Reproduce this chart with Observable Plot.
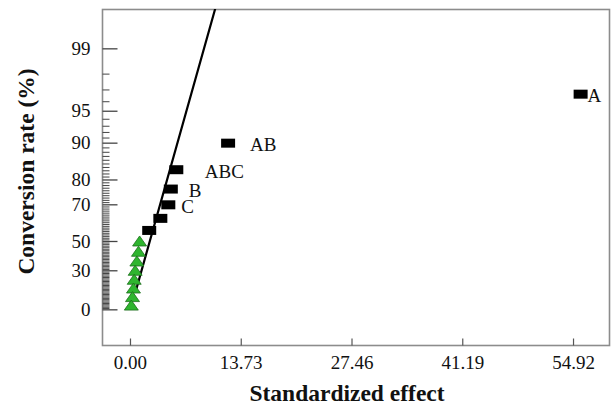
<!DOCTYPE html>
<html>
<head>
<meta charset="utf-8">
<script src="https://cdn.jsdelivr.net/npm/d3@7"></script>
<script src="https://cdn.jsdelivr.net/npm/@observablehq/plot@0.6"></script>
<style>
  html, body { margin: 0; padding: 0; background: #fff; }
  #chart svg { display: block; }
</style>
</head>
<body>
<div id="chart"></div>
<script>
// ---- Data (half-normal plot of effects) ----
const sigNames   = ["A", "AB", "ABC", "B", "C", "", ""];
const sigEffect  = [55.8, 12.1, 5.68, 5.0, 4.69, 3.70, 2.32];
const sigPercent = [96.67, 90, 83.33, 76.67, 70, 63.33, 56.67];

const insigEffect  = [1.13, 0.99, 0.79, 0.58, 0.46, 0.37, 0.25, 0.10];
const insigPercent = [50, 43.33, 36.67, 30, 23.33, 16.67, 10, 3.33];

const fitEffect  = [0.74, 10.92];
const fitPercent = [16.6, 99.8];

const xTicks      = [0, 13.73, 27.46, 41.19, 54.92];
const yTickLabels = [0, 30, 50, 70, 80, 90, 95, 99];
const yMinorTicks = d3.range(1, 99).filter(v => !yTickLabels.includes(v));

const xTitle = "Standardized effect";
const yTitle = "Conversion rate (%)";

// label offsets (style, px)
const labelDx = {A: 7, AB: 22, ABC: 28.5, B: 18, C: 13};

// ---- half-normal probability transform ----
function invNorm(p) {
  const a=[-3.969683028665376e+01,2.209460984245205e+02,-2.759285104469687e+02,1.383577518672690e+02,-3.066479806614716e+01,2.506628277459239e+00];
  const b=[-5.447609879822406e+01,1.615858368580409e+02,-1.556989798598866e+02,6.680131188771972e+01,-1.328068155288572e+01];
  const c=[-7.784894002430293e-03,-3.223964580411365e-01,-2.400758277161838e+00,-2.549671010114194e+00,4.374664141464968e+00,2.938163982698783e+00];
  const d=[7.784695709041462e-03,3.224671290700398e-01,2.445134137142996e+00,3.754408661907416e+00];
  const pl = 0.02425, ph = 1 - pl;
  let q, r;
  if (p < pl) { q = Math.sqrt(-2*Math.log(p)); return (((((c[0]*q+c[1])*q+c[2])*q+c[3])*q+c[4])*q+c[5])/((((d[0]*q+d[1])*q+d[2])*q+d[3])*q+1); }
  if (p <= ph) { q = p - 0.5; r = q*q; return (((((a[0]*r+a[1])*r+a[2])*r+a[3])*r+a[4])*r+a[5])*q/(((((b[0]*r+b[1])*r+b[2])*r+b[3])*r+b[4])*r+1); }
  q = Math.sqrt(-2*Math.log(1-p));
  return -(((((c[0]*q+c[1])*q+c[2])*q+c[3])*q+c[4])*q+c[5])/((((d[0]*q+d[1])*q+d[2])*q+d[3])*q+1);
}
const hn = pct => invNorm(0.5 + pct / 200);

// ---- tables ----
const sig = sigNames.map((n, i) => ({name: n, effect: sigEffect[i], z: hn(sigPercent[i])}));
const insig = insigEffect.map((e, i) => ({effect: e, z: hn(insigPercent[i])}));
const fit = fitEffect.map((e, i) => ({effect: e, z: hn(fitPercent[i])}));
const yMajorZ = yTickLabels.map(hn);
const yLabelMap = new Map(yMajorZ.map((z, i) => [z, String(yTickLabels[i])]));

// ---- custom symbols ----
const rectSym = {draw(ctx) { ctx.rect(-7, -4.5, 14, 9); }};
const triSym  = {draw(ctx) { ctx.moveTo(0, -5.5); ctx.lineTo(7, 4.5); ctx.lineTo(-7, 4.5); ctx.closePath(); }};
const vTick = len => ({draw(ctx) { ctx.moveTo(0, 0); ctx.lineTo(0, -len); }});
const hTick = len => ({draw(ctx) { ctx.moveTo(0, 0); ctx.lineTo(len, 0); }});

const serif = "'Liberation Serif', 'Times New Roman', serif";

const chart = Plot.plot({
  width: 611,
  height: 405,
  marginLeft: 102,
  marginRight: 2,
  marginTop: 9,
  marginBottom: 60,
  style: {fontFamily: serif, fontSize: "19px", color: "#111", background: "#fff"},
  x: {domain: [-3.47, 59.38], label: null},
  y: {domain: [-0.352, 2.964], label: null},
  marks: [
    Plot.frame({stroke: "#8c8c8c", strokeWidth: 1.6}),
    Plot.axisX({ticks: xTicks, tickFormat: d => d.toFixed(2), tickSize: 0, tickPadding: 10, fontSize: 19, label: null}),
    Plot.axisY({ticks: yMajorZ, tickFormat: z => yLabelMap.get(z), tickSize: 0, tickPadding: 12, fontSize: 19, label: null}),
    Plot.dot(xTicks, {x: d => d, frameAnchor: "bottom", symbol: vTick(7), fill: "none", stroke: "#555", strokeWidth: 1.2}),
    Plot.dot(yMajorZ, {y: d => d, frameAnchor: "left", symbol: hTick(15), fill: "none", stroke: "#444", strokeWidth: 1.3}),
    Plot.dot(yMinorTicks, {y: d => hn(d), frameAnchor: "left", symbol: hTick(7), fill: "none", stroke: "#444", strokeWidth: 1}),
    Plot.line(fit, {x: "effect", y: "z", stroke: "#000", strokeWidth: 2.2, clip: true}),
    Plot.dot(insig, {x: "effect", y: "z", symbol: triSym, fill: "#2fb52f", stroke: "#1c6f1c", strokeWidth: 0.8}),
    Plot.dot(sig, {x: "effect", y: "z", symbol: rectSym, fill: "#000", stroke: "none"}),
    ...sig.filter(d => d.name).map(d =>
      Plot.text([d], {x: "effect", y: "z", text: "name", textAnchor: "start", dx: labelDx[d.name], dy: 2, fontSize: 19, fill: "#111"})
    ),
    Plot.text([xTitle], {frameAnchor: "bottom", text: d => d, dx: -9, dy: 48, textAnchor: "middle", lineAnchor: "middle", fontSize: 23.5, fontWeight: "bold", fill: "#111"}),
    Plot.text([yTitle], {frameAnchor: "left", text: d => d, dx: -76, dy: -6, rotate: -90, textAnchor: "middle", lineAnchor: "middle", fontSize: 23.5, fontWeight: "bold", fill: "#111"})
  ]
});
document.getElementById("chart").appendChild(chart);
</script>
</body>
</html>
